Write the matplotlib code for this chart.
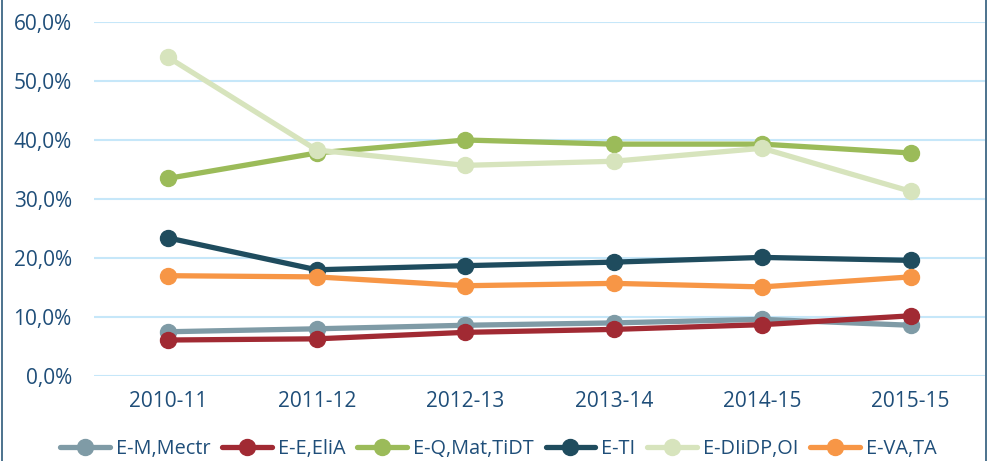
import matplotlib.pyplot as plt
from matplotlib.lines import Line2D
from matplotlib.ticker import FuncFormatter

years = ["2010-11", "2011-12", "2012-13", "2013-14", "2014-15", "2015-15"]
labels = ["E-M,Mectr", "E-E,EliA", "E-Q,Mat,TiDT", "E-TI", "E-DIiDP,OI", "E-VA,TA"]
e_m = [7.5, 8.0, 8.6, 9.0, 9.6, 8.6]
e_e = [6.1, 6.3, 7.4, 7.9, 8.7, 10.2]
e_q = [33.5, 37.8, 40.0, 39.3, 39.3, 37.8]
e_ti = [23.4, 18.0, 18.7, 19.3, 20.1, 19.6]
e_di = [54.0, 38.3, 35.7, 36.4, 38.6, 31.3]
e_va = [17.0, 16.8, 15.3, 15.7, 15.1, 16.8]
series = [e_m, e_e, e_q, e_ti, e_di, e_va]
colors = ["#7F9BA6", "#A12A33", "#9BBB59", "#1F4C5E", "#D7E4BD", "#F79646"]

text_col = "#1F4E79"

fig = plt.figure(figsize=(9.88, 4.61), dpi=100)
ax = fig.add_axes([94 / 988, 1 - 376 / 461, (985 - 94) / 988, (376 - 22) / 461])

x = range(len(years))
handles = []
for vals, col, lab in zip(series, colors, labels):
    h, = ax.plot(x, [v / 100 for v in vals], color=col, lw=3.8, marker="o",
                 markersize=11.5, solid_capstyle="round", label=lab)
    handles.append(h)

ax.set_xlim(-0.5, len(years) - 0.5)
ax.set_ylim(0, 0.6)
ax.set_yticks([i / 10 for i in range(7)])
ax.yaxis.set_major_formatter(FuncFormatter(lambda v, p: f"{v * 100:.1f}%".replace(".", ",")))
ax.set_xticks(list(x))
ax.set_xticklabels(years)
ax.grid(axis="y", color="#C6E7F9", lw=1.5)
ax.set_axisbelow(True)
for s in ax.spines.values():
    s.set_visible(False)
ax.tick_params(length=0, labelsize=15, labelcolor=text_col, pad=11, labelfontfamily="Open Sans")
ax.tick_params(axis="y", pad=16)

fig.legend(handles=handles, loc="center left", bbox_to_anchor=(60 / 988, 1 - 449 / 461),
           ncol=6, frameon=False, handlelength=2.5, handletextpad=0.3, borderaxespad=0,
           borderpad=0, columnspacing=0.6, labelcolor=text_col,
           prop={"family": "Open Sans", "size": 14.3})

fig.add_artist(Line2D([2 / 988, 2 / 988], [0, 1], color="#2E5A7A", lw=1.2))
fig.add_artist(Line2D([986 / 988, 986 / 988], [0, 1], color="#2E5A7A", lw=1.2))

fig.savefig("out.png", dpi=100)
